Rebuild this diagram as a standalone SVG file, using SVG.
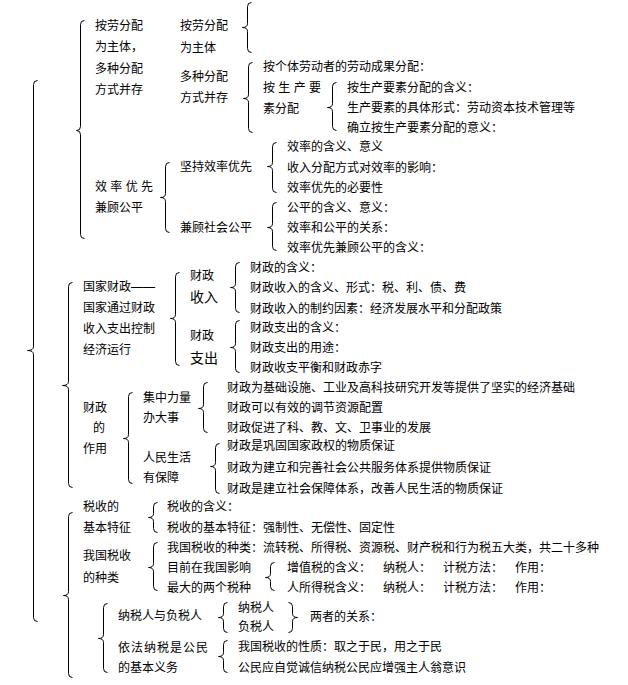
<svg xmlns="http://www.w3.org/2000/svg" width="628" height="685" viewBox="0 0 628 685">
<style>
text{font-family:"Liberation Sans","Noto Sans CJK SC",sans-serif;font-size:12px;fill:#000}
.big{font-size:14px}
.br{fill:none;stroke:#000;stroke-width:1}
</style>
<rect width="628" height="685" fill="#fff"/>
<g id="connectors" transform="translate(0.5,0.5)">
<path class="br" d="M37 80 Q33 80 33 84 V346 Q33 350 27 350 Q33 350 33 354 V617 Q33 621 37 621"/>
<path class="br" d="M84 20 Q80 20 80 24 V126 Q80 130 76 130 Q80 130 80 134 V234 Q80 238 84 238"/>
<path class="br" d="M251 2 Q247 2 247 6 V23 Q247 27 242 27 Q247 27 247 31 V48 Q247 52 251 52"/>
<path class="br" d="M252 62 Q248 62 248 66 V94 Q248 98 243 98 Q248 98 248 102 V128 Q248 132 252 132"/>
<path class="br" d="M336 82 Q332 82 332 86 V103 Q332 107 327 107 Q332 107 332 111 V126 Q332 130 336 130"/>
<path class="br" d="M169 162 Q165 162 165 166 V193 Q165 197 160 197 Q165 197 165 201 V228 Q165 232 169 232"/>
<path class="br" d="M276 142 Q272 142 272 146 V162 Q272 166 267 166 Q272 166 272 170 V188 Q272 192 276 192"/>
<path class="br" d="M276 202 Q272 202 272 206 V223 Q272 227 267 227 Q272 227 272 231 V246 Q272 250 276 250"/>
<path class="br" d="M72 282 Q68 282 68 286 V381 Q68 385 62 385 Q68 385 68 389 V483 Q68 487 72 487"/>
<path class="br" d="M179 272 Q175 272 175 276 V314 Q175 318 170 318 Q175 318 175 322 V361 Q175 365 179 365"/>
<path class="br" d="M239 262 Q235 262 235 266 V283 Q235 287 230 287 Q235 287 235 291 V308 Q235 312 239 312"/>
<path class="br" d="M239 320 Q235 320 235 324 V343 Q235 347 230 347 Q235 347 235 351 V368 Q235 372 239 372"/>
<path class="br" d="M132 392 Q128 392 128 396 V434 Q128 438 123 438 Q128 438 128 442 V479 Q128 483 132 483"/>
<path class="br" d="M207 382 Q203 382 203 386 V404 Q203 408 198 408 Q203 408 203 412 V428 Q203 432 207 432"/>
<path class="br" d="M219 443 Q215 443 215 447 V462 Q215 466 210 466 Q215 466 215 470 V489 Q215 493 219 493"/>
<path class="br" d="M157 502 Q153 502 153 506 V513 Q153 517 148 517 Q153 517 153 521 V528 Q153 532 157 532"/>
<path class="br" d="M157 542 Q153 542 153 546 V563 Q153 567 148 567 Q153 567 153 571 V586 Q153 590 157 590"/>
<path class="br" d="M274 562 Q270 562 270 566 V573 Q270 577 265 577 Q270 577 270 581 V586 Q270 590 274 590"/>
<path class="br" d="M72 512 Q68 512 68 516 V591 Q68 595 63 595 Q68 595 68 599 V673 Q68 677 72 677"/>
<path class="br" d="M107 603 Q103 603 103 607 V634 Q103 638 98 638 Q103 638 103 642 V668 Q103 672 107 672"/>
<path class="br" d="M227 602 Q223 602 223 606 V613 Q223 617 218 617 Q223 617 223 621 V628 Q223 632 227 632"/>
<path class="br" d="M288 602 Q292 602 292 606 V613 Q292 617 297 617 Q292 617 292 621 V628 Q292 632 288 632"/>
<path class="br" d="M227 640 Q223 640 223 644 V652 Q223 656 218 656 Q223 656 223 660 V668 Q223 672 227 672"/>
</g>
<g id="n-fenpei">
<text x="95" y="29.5">按劳分配</text>
<text x="95" y="51">为主体，</text>
<text x="95" y="72.5">多种分配</text>
<text x="95" y="94">方式并存</text>
</g>
<g id="n-anlao">
<text x="180" y="29.5">按劳分配</text>
<text x="180" y="51.5">为主体</text>
</g>
<g id="n-duozhong">
<text x="180" y="80.5">多种分配</text>
<text x="180" y="101.5">方式并存</text>
</g>
<g id="n-geti"><text x="263" y="70.5">按个体劳动者的劳动成果分配：</text></g>
<g id="n-shengchan">
<text x="263" y="91.5" xml:space="preserve">按 生 产 要</text>
<text x="263" y="112.5">素分配</text>
</g>
<g id="n-shengchan-items">
<text x="347" y="91.5">按生产要素分配的含义：</text>
<text x="347" y="111.5">生产要素的具体形式：劳动资本技术管理等</text>
<text x="347" y="131.5">确立按生产要素分配的意义：</text>
</g>
<g id="n-xiaolv">
<text x="95" y="190.5" xml:space="preserve">效 率 优 先</text>
<text x="95" y="211.5">兼顾公平</text>
</g>
<g id="n-jianchi"><text x="180" y="170.5">坚持效率优先</text></g>
<g id="n-jiangu"><text x="180" y="231.5">兼顾社会公平</text></g>
<g id="n-jianchi-items">
<text x="287" y="150.5">效率的含义、意义</text>
<text x="287" y="171.5">收入分配方式对效率的影响：</text>
<text x="287" y="191.5">效率优先的必要性</text>
</g>
<g id="n-jiangu-items">
<text x="287" y="211.5">公平的含义、意义：</text>
<text x="287" y="231.5">效率和公平的关系：</text>
<text x="287" y="251.5">效率优先兼顾公平的含义：</text>
</g>
<g id="n-caizheng">
<text x="83" y="290.5">国家财政——</text>
<text x="83" y="311.5">国家通过财政</text>
<text x="83" y="332.5">收入支出控制</text>
<text x="83" y="353.5">经济运行</text>
</g>
<g id="n-shouru">
<text x="190" y="279.5">财政</text>
<text x="190" y="302" class="big">收入</text>
</g>
<g id="n-zhichu">
<text x="190" y="339.5">财政</text>
<text x="190" y="363" class="big">支出</text>
</g>
<g id="n-shouru-items">
<text x="250" y="271.5">财政的含义：</text>
<text x="250" y="291.5">财政收入的含义、形式：税、利、债、费</text>
<text x="250" y="312.5">财政收入的制约因素：经济发展水平和分配政策</text>
</g>
<g id="n-zhichu-items">
<text x="250" y="331.5">财政支出的含义：</text>
<text x="250" y="351.5">财政支出的用途：</text>
<text x="250" y="371.5">财政收支平衡和财政赤字</text>
</g>
<g id="n-zuoyong">
<text x="83" y="411.5">财政</text>
<text x="93" y="431.5">的</text>
<text x="83" y="452.5">作用</text>
</g>
<g id="n-jizhong">
<text x="143" y="401.5">集中力量</text>
<text x="143" y="421.5">办大事</text>
</g>
<g id="n-renmin">
<text x="143" y="461.5">人民生活</text>
<text x="143" y="481.5">有保障</text>
</g>
<g id="n-jizhong-items">
<text x="227" y="391.5">财政为基础设施、工业及高科技研究开发等提供了坚实的经济基础</text>
<text x="227" y="411.5">财政可以有效的调节资源配置</text>
<text x="227" y="431.5">财政促进了科、教、文、卫事业的发展</text>
</g>
<g id="n-renmin-items">
<text x="227" y="449.5">财政是巩固国家政权的物质保证</text>
<text x="227" y="471.5">财政为建立和完善社会公共服务体系提供物质保证</text>
<text x="227" y="492.5">财政是建立社会保障体系，改善人民生活的物质保证</text>
</g>
<g id="n-tezheng">
<text x="83" y="510.5">税收的</text>
<text x="83" y="531.5">基本特征</text>
</g>
<g id="n-tezheng-items">
<text x="167" y="510.5">税收的含义：</text>
<text x="167" y="531.5">税收的基本特征：强制性、无偿性、固定性</text>
</g>
<g id="n-zhonglei">
<text x="83" y="559.5">我国税收</text>
<text x="83" y="581.5">的种类</text>
</g>
<g id="n-zhonglei-items">
<text x="167" y="551.5">我国税收的种类：流转税、所得税、资源税、财产税和行为税五大类，共二十多种</text>
<text x="167" y="571.5">目前在我国影响</text>
<text x="167" y="591.5">最大的两个税种</text>
</g>
<g id="n-shuizhong">
<text x="287" y="571.5">增值税的含义：</text>
<text x="383" y="571.5">纳税人：</text>
<text x="443" y="571.5">计税方法：</text>
<text x="515" y="571.5">作用：</text>
<text x="287" y="591.5">人所得税含义：</text>
<text x="383" y="591.5">纳税人：</text>
<text x="443" y="591.5">计税方法：</text>
<text x="515" y="591.5">作用：</text>
</g>
<g id="n-nashuiren">
<text x="118" y="619.5">纳税人与负税人</text>
</g>
<g id="n-nashuiren-items">
<text x="238" y="611.5">纳税人</text>
<text x="238" y="630.5">负税人</text>
</g>
<g id="n-guanxi"><text x="310" y="620.5">两者的关系：</text></g>
<g id="n-yiwu">
<text x="118" y="651.5" letter-spacing="1">依法纳税是公民</text>
<text x="118" y="671.5">的基本义务</text>
</g>
<g id="n-yiwu-items">
<text x="238" y="650.5">我国税收的性质：取之于民，用之于民</text>
<text x="238" y="671.5">公民应自觉诚信纳税公民应增强主人翁意识</text>
</g>
</svg>
